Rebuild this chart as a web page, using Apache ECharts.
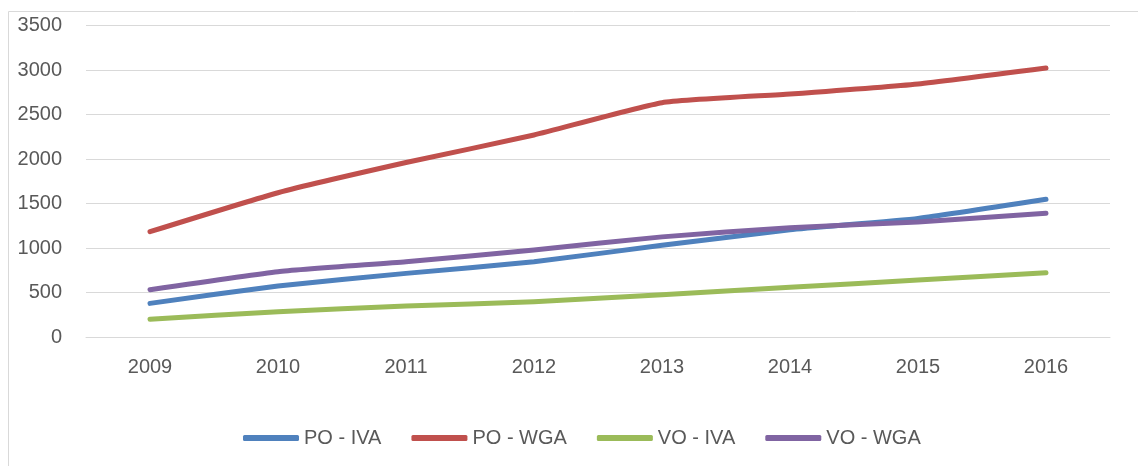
<!DOCTYPE html>
<html>
<head>
<meta charset="utf-8">
<script src="https://cdn.jsdelivr.net/npm/echarts@6/dist/echarts.min.js"></script>
<style>
  html, body { margin: 0; padding: 0; background: #fff; }
  #chart { width: 1138px; height: 466px; }
</style>
</head>
<body>
<div id="chart"></div>
<script>
// data
const years = ['2009', '2010', '2011', '2012', '2013', '2014', '2015', '2016']
const poIva = [378, 573, 715, 846, 1030, 1205, 1333, 1547]
const poWga = [1183, 1621, 1960, 2270, 2633, 2730, 2843, 3022]
const voIva = [199, 284, 348, 397, 475, 558, 640, 723]
const voWga = [532, 734, 846, 978, 1125, 1228, 1292, 1390]
const yTicks = { min: 0, max: 3500, interval: 500 }

const font = "'Liberation Sans', sans-serif"

function line (name, data, color) {
  return {
    name: name,
    type: 'line',
    data: data,
    smooth: 0.15,
    symbol: 'none',
    color: color,
    lineStyle: { width: 5, color: color, cap: 'round', join: 'round' }
  }
}

const myChart = echarts.init(document.getElementById('chart'))
myChart.setOption({
  animation: false,
  graphic: [{
    type: 'rect',
    shape: { x: 8.5, y: 11.5, width: 1200, height: 500 },
    style: { fill: 'none', stroke: '#d9d9d9', lineWidth: 1 },
    silent: true
  }],
  grid: { left: 86, right: 28, top: 25.5, bottom: 129 },
  xAxis: {
    type: 'category',
    data: years,
    boundaryGap: true,
    axisLine: { show: true, lineStyle: { color: '#d9d9d9', width: 1 } },
    axisTick: { show: false },
    axisLabel: { color: '#595959', fontSize: 20, fontFamily: font, margin: 20 }
  },
  yAxis: {
    type: 'value',
    min: yTicks.min,
    max: yTicks.max,
    interval: yTicks.interval,
    axisLine: { show: false },
    axisTick: { show: false },
    splitLine: { lineStyle: { color: '#d9d9d9', width: 1 } },
    axisLabel: {
      color: '#595959', fontSize: 20, fontFamily: font, margin: 24,
      formatter: v => String(v)
    }
  },
  legend: {
    top: 423,
    left: 238,
    icon: 'roundRect',
    itemWidth: 56,
    itemHeight: 6,
    itemGap: 30,
    textStyle: { color: '#595959', fontSize: 20, fontFamily: font },
    data: ['PO - IVA', 'PO - WGA', 'VO - IVA', 'VO - WGA']
  },
  series: [
    line('PO - IVA', poIva, '#4f81bd'),
    line('PO - WGA', poWga, '#c0504d'),
    line('VO - IVA', voIva, '#9bbb59'),
    line('VO - WGA', voWga, '#8064a2')
  ]
})
window.addEventListener('resize', () => {
  myChart.resize()
})
</script>
</body>
</html>
